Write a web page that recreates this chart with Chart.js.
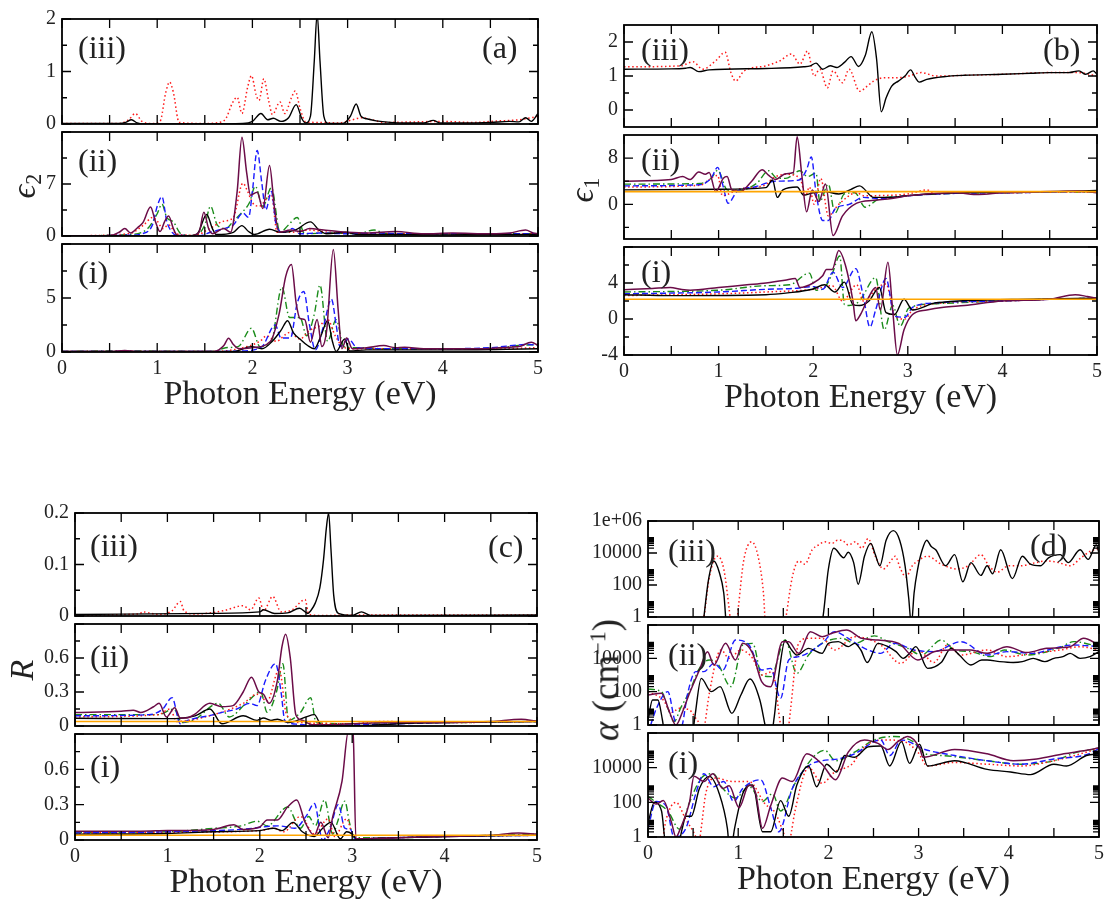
<!DOCTYPE html>
<html>
<head>
<meta charset="utf-8">
<script src="https://cdn.jsdelivr.net/npm/chart.js@4.4.1/dist/chart.umd.min.js"></script>
<style>
  body { margin: 0; background: #fff; }
  #page { position: relative; width: 1107px; height: 899px; overflow: hidden; font-family: 'Liberation Serif', serif; color: #222; }
  canvas { position: absolute; }
  .lbl { position: absolute; font-size: 32px; line-height: 1; white-space: nowrap; }
  .ytitle { position: absolute; font-size: 34px; line-height: 1; white-space: nowrap; transform: translate(-50%, -50%) rotate(-90deg); }
  .ytitle sub { font-size: 0.65em; font-style: normal; vertical-align: -0.25em; }
  .ytitle sup { font-size: 0.6em; vertical-align: 0.6em; }
</style>
</head>
<body>
<div id="page"></div>
<script>
// ---------- data: [photon energy (eV), value] ----------
// panel (a) epsilon_2
const aIII_k = [[0,0.01],[0.6,0.01],[0.67,0.03],[0.73,0.08],[0.79,0.02],[0.85,0],[1.5,0],[1.9,0.01],[2.0,0.05],[2.09,0.2],[2.16,0.08],[2.22,0.11],[2.3,0.05],[2.38,0.12],[2.46,0.37],[2.52,0.1],[2.56,0.02],[2.61,0.15],[2.65,1.2],[2.68,2.1],[2.71,1.2],[2.75,0.15],[2.8,0.01],[2.95,0.01],[3.03,0.15],[3.09,0.38],[3.14,0.15],[3.2,0.1],[3.3,0.06],[3.45,0.03],[3.6,0.02],[3.8,0.02],[3.9,0.07],[3.97,0.02],[4.2,0.02],[4.5,0.03],[4.7,0.05],[4.8,0.04],[4.87,0.12],[4.93,0.05],[5.0,0.2]];
const aIII_r = [[0,0.01],[0.6,0.01],[0.7,0.08],[0.77,0.2],[0.84,0.05],[0.95,0.01],[1.03,0.05],[1.09,0.6],[1.13,0.8],[1.17,0.6],[1.23,0.03],[1.5,0.01],[1.65,0.03],[1.72,0.1],[1.79,0.4],[1.84,0.51],[1.89,0.2],[1.95,0.7],[1.99,0.92],[2.04,0.55],[2.07,0.45],[2.12,0.86],[2.17,0.45],[2.21,0.18],[2.29,0.42],[2.34,0.2],[2.41,0.5],[2.45,0.63],[2.5,0.3],[2.56,0.04],[2.7,0.03],[2.9,0.02],[3.05,0.08],[3.15,0.12],[3.25,0.08],[3.4,0.03],[3.7,0.04],[4.0,0.05],[4.3,0.03],[4.6,0.06],[4.8,0.08],[4.93,0.12],[5.0,0.15]];

const aII_k = [[0,0.02],[1.3,0.01],[1.42,0.3],[1.52,2.9],[1.58,1.0],[1.62,0.2],[1.8,0.5],[1.89,1.4],[1.96,0.6],[2.02,0.2],[2.18,0.9],[2.3,0.5],[2.45,0.8],[2.61,1.9],[2.7,0.8],[2.78,0.3],[2.98,0.5],[3.1,0.2],[3.5,0.2],[4.0,0.15],[4.5,0.2],[5.0,0.2]];
const aII_r = [[0,0.02],[0.7,0.3],[0.86,1.5],[0.95,2.5],[1.0,2.0],[1.06,1.0],[1.12,1.5],[1.2,0.3],[1.4,0.1],[1.55,1.0],[1.7,2.0],[1.8,2.5],[1.9,7.1],[1.95,6.0],[2.0,4.5],[2.07,4.0],[2.15,5.0],[2.2,5.5],[2.26,0.5],[2.4,0.5],[2.6,0.8],[2.8,0.5],[3.0,0.4],[3.4,0.3],[4.0,0.3],[4.6,0.3],[5.0,0.3]];
const aII_b = [[0,0.02],[0.7,0.1],[0.84,0.3],[0.95,1.5],[1.0,4.0],[1.05,5.3],[1.1,2.0],[1.15,0.6],[1.2,0.1],[1.45,0.05],[1.56,0.5],[1.7,1.0],[1.8,1.5],[1.9,3.1],[1.96,2.5],[2.0,6.0],[2.05,11.5],[2.1,7.0],[2.14,3.5],[2.2,6.0],[2.25,1.5],[2.33,0.5],[2.42,1.0],[2.5,0.3],[2.7,0.4],[3.0,0.3],[3.3,0.4],[3.6,0.3],[4.0,0.3],[4.5,0.3],[5.0,0.3]];
const aII_g = [[0,0.02],[0.7,0.2],[0.9,1.0],[1.0,3.0],[1.05,4.3],[1.1,2.5],[1.17,1.9],[1.25,0.3],[1.4,0.05],[1.5,1.5],[1.56,4.0],[1.63,1.5],[1.72,1.0],[1.8,2.0],[1.9,3.3],[1.97,4.5],[2.03,6.7],[2.11,4.0],[2.2,6.5],[2.29,0.5],[2.38,1.5],[2.47,2.5],[2.55,0.3],[2.8,0.4],[3.1,0.3],[3.28,0.8],[3.4,0.3],[3.8,0.3],[4.4,0.3],[5.0,0.3]];
const aII_m = [[0,0.05],[0.5,0.05],[0.6,0.5],[0.66,1.0],[0.72,0.4],[0.8,1.2],[0.85,1.8],[0.93,3.9],[0.98,2.0],[1.03,0.6],[1.08,2.0],[1.12,2.7],[1.17,1.0],[1.21,0.1],[1.35,0],[1.44,0.5],[1.49,3.2],[1.54,1.0],[1.58,0.3],[1.7,1.0],[1.77,0.5],[1.84,6.0],[1.89,13.3],[1.94,8.5],[1.98,5.5],[2.05,5.9],[2.11,3.7],[2.18,9.5],[2.23,4.0],[2.28,0.5],[2.4,0.8],[2.5,0.6],[2.6,1.0],[2.75,0.8],[2.9,0.6],[3.0,0.5],[3.2,0.4],[3.5,0.6],[3.8,0.3],[4.1,0.4],[4.5,0.3],[4.7,0.4],[4.87,0.8],[4.95,0.4],[5.0,0.3]];

const aI_k = [[0,0.05],[1.8,0.05],[1.99,0.5],[2.1,0.3],[2.21,1.0],[2.3,2.0],[2.37,2.9],[2.43,1.8],[2.5,1.2],[2.58,0.6],[2.65,0.3],[2.72,1.5],[2.79,2.9],[2.84,1.0],[2.88,0.05],[2.97,1.2],[3.02,0.1],[3.2,0.2],[4.0,0.2],[5.0,0.3]];
const aI_r = [[0,0.05],[1.6,0.05],[1.9,0.4],[2.08,1.0],[2.15,1.5],[2.25,1.0],[2.39,1.8],[2.5,1.2],[2.6,2.0],[2.7,2.4],[2.79,3.0],[2.87,1.5],[2.95,0.5],[3.05,0.3],[3.5,0.3],[4.5,0.3],[5.0,0.4]];
const aI_b = [[0,0.05],[1.6,0.05],[1.9,0.1],[2.1,0.5],[2.24,2.5],[2.3,1.3],[2.4,1.3],[2.47,4.5],[2.54,5.6],[2.6,2.5],[2.66,0.2],[2.75,2.5],[2.83,4.9],[2.88,2.5],[2.92,0.5],[3.01,1.2],[3.1,0.4],[3.5,0.3],[4.0,0.3],[4.5,0.4],[4.9,0.7],[5.0,0.6]];
const aI_g = [[0,0.05],[0.6,0.1],[1.6,0.05],[1.72,0.4],[1.85,0.5],[1.99,2.2],[2.08,0.5],[2.2,1.0],[2.31,6.0],[2.39,3.2],[2.5,3.2],[2.57,1.5],[2.65,3.5],[2.71,6.2],[2.79,1.0],[2.88,3.0],[2.96,0.5],[3.1,0.4],[3.4,0.3],[3.8,0.3],[4.2,0.3],[4.6,0.4],[4.8,0.6],[5.0,0.7]];
const aI_m = [[0,0.05],[0.5,0.05],[0.66,0.15],[0.8,0.05],[1.6,0.05],[1.7,0.6],[1.75,1.28],[1.8,0.7],[1.86,0.3],[2.0,0.4],[2.19,1.0],[2.28,3.5],[2.35,7.0],[2.41,8.1],[2.46,4.5],[2.5,3.1],[2.55,3.0],[2.61,0.9],[2.68,3.0],[2.73,0.5],[2.78,2.0],[2.85,9.5],[2.9,4.0],[2.94,0.3],[2.99,1.3],[3.05,0.3],[3.2,0.4],[3.38,0.6],[3.5,0.4],[3.6,0.45],[3.8,0.3],[4.1,0.3],[4.4,0.3],[4.6,0.4],[4.8,0.5],[4.93,0.9],[5.0,0.6]];

// panel (b) epsilon_1
const bIII_k = [[0,1.2],[0.5,1.21],[0.65,1.23],[0.7,1.25],[0.79,1.13],[0.9,1.18],[1.5,1.22],[1.9,1.27],[1.97,1.3],[2.03,1.38],[2.1,1.2],[2.18,1.3],[2.25,1.25],[2.33,1.4],[2.4,1.57],[2.48,1.28],[2.55,1.6],[2.62,2.3],[2.67,1.5],[2.72,-0.05],[2.77,0.35],[2.83,0.7],[2.9,0.85],[2.97,1.0],[3.03,1.18],[3.08,0.95],[3.12,0.82],[3.2,0.9],[3.38,0.98],[3.6,1.02],[4.0,1.05],[4.3,1.08],[4.5,1.1],[4.7,1.1],[4.81,1.15],[4.88,1.05],[4.96,1.15],[5.0,1.05]];
const bIII_r = [[0,1.27],[0.6,1.3],[0.73,1.42],[0.83,1.2],[0.97,1.45],[1.07,1.7],[1.13,1.1],[1.18,0.85],[1.27,1.15],[1.5,1.3],[1.65,1.45],[1.77,1.65],[1.86,1.35],[1.94,1.73],[2.01,1.0],[2.07,1.2],[2.15,0.65],[2.21,1.15],[2.31,0.8],[2.38,1.2],[2.49,0.55],[2.57,0.7],[2.64,0.85],[2.75,0.95],[2.9,0.95],[3.01,1.0],[3.14,1.1],[3.3,1.0],[3.6,1.02],[4.0,1.05],[4.5,1.1],[4.8,1.1],[5.0,1.0]];

const bII_o = [[0,2.2],[5,2.2]];
const bII_k = [[0,2.5],[1.0,2.6],[1.5,2.9],[1.57,4.2],[1.62,1.2],[1.68,2.5],[1.83,3.0],[1.9,1.6],[2.0,2.0],[2.12,2.2],[2.27,1.8],[2.4,2.6],[2.49,3.2],[2.64,1.2],[2.8,1.2],[3.0,1.5],[3.5,2.0],[4.0,2.1],[4.5,2.2],[5.0,2.4]];
const bII_r = [[0,3.0],[0.8,3.3],[0.99,5.0],[1.04,1.5],[1.23,2.7],[1.5,3.4],[1.57,4.5],[1.71,5.2],[1.86,4.5],[1.92,1.5],[1.96,3.0],[2.01,0.0],[2.08,4.5],[2.16,-2.0],[2.27,0.0],[2.46,2.0],[2.53,1.5],[3.0,1.8],[3.2,2.5],[3.3,1.8],[3.5,2.0],[4.0,2.0],[4.5,2.1],[5.0,2.1]];
const bII_b = [[0,3.2],[0.8,3.4],[0.92,4.5],[0.99,6.4],[1.05,3.0],[1.1,0.2],[1.2,2.3],[1.38,3.0],[1.6,4.0],[1.85,4.2],[1.93,6.0],[1.98,8.2],[2.03,2.0],[2.1,-2.8],[2.16,-2.8],[2.23,-0.8],[2.38,0.0],[2.53,1.2],[2.71,1.0],[2.9,1.3],[3.1,1.6],[3.5,1.9],[4.0,2.0],[4.5,2.1],[5.0,2.2]];
const bII_g = [[0,3.5],[0.8,3.6],[0.92,4.5],[0.99,5.9],[1.09,2.5],[1.18,2.3],[1.4,3.6],[1.53,5.8],[1.62,4.5],[1.71,4.5],[1.86,5.8],[1.94,4.8],[2.03,5.4],[2.07,0.5],[2.16,3.5],[2.23,-1.5],[2.33,1.8],[2.44,2.0],[2.55,-0.5],[2.68,0.8],[3.0,1.5],[3.5,1.9],[4.0,2.0],[4.5,2.1],[5.0,2.1]];
const bII_m = [[0,4.0],[0.5,4.3],[0.62,4.8],[0.7,4.3],[0.79,5.6],[0.86,5.2],[0.9,5.5],[0.97,2.2],[1.05,4.5],[1.09,4.8],[1.14,2.5],[1.23,2.2],[1.35,4.0],[1.46,6.0],[1.53,5.0],[1.6,4.3],[1.71,5.3],[1.79,5.5],[1.83,11.7],[1.88,5.0],[1.93,-1.3],[1.99,2.5],[2.06,0.5],[2.13,3.5],[2.21,-5.4],[2.31,-2.0],[2.46,0.2],[2.64,0.7],[2.83,1.0],[3.0,1.5],[3.5,2.0],[3.75,1.7],[4.0,2.0],[4.5,2.2],[4.8,2.3],[5.0,2.0]];

const bI_o = [[0,2.2],[5,2.2]];
const bI_k = [[0,2.7],[0.5,2.6],[1.5,2.7],[1.73,2.9],[1.99,3.3],[2.12,3.8],[2.23,3.0],[2.33,4.1],[2.42,1.6],[2.49,1.5],[2.59,2.0],[2.7,3.5],[2.77,0.7],[2.86,0.5],[2.96,2.2],[3.05,1.0],[3.3,1.8],[4.3,2.2],[5.0,2.3]];
const bI_r = [[0,2.6],[1.0,2.8],[1.5,3.0],[2.0,3.3],[2.2,3.7],[2.31,2.0],[2.46,3.8],[2.53,2.0],[2.68,3.5],[2.77,3.9],[2.86,0.5],[2.97,0.0],[3.05,1.0],[3.4,1.8],[4.0,2.0],[4.5,2.2],[5.0,2.3]];
const bI_b = [[0,2.8],[1.0,3.0],[1.5,3.3],[1.8,3.4],[2.0,3.6],[2.1,3.3],[2.21,5.2],[2.31,3.5],[2.45,5.6],[2.53,2.5],[2.6,-0.9],[2.66,1.0],[2.77,4.5],[2.86,0.3],[2.97,0.2],[3.05,1.3],[3.3,1.8],[4.0,2.0],[4.5,2.2],[5.0,2.3]];
const bI_g = [[0,3.0],[1.0,3.2],[1.5,3.7],[1.75,3.8],[1.96,5.1],[2.03,3.2],[2.12,3.5],[2.2,5.0],[2.28,7.0],[2.33,1.6],[2.38,1.5],[2.49,2.0],[2.66,4.6],[2.75,-1.2],[2.84,1.5],[2.92,-0.8],[3.01,1.2],[3.3,1.7],[4.0,2.0],[4.5,2.2],[5.0,2.3]];
const bI_m = [[0,3.24],[0.3,3.4],[0.49,3.5],[0.6,3.3],[0.7,3.2],[1.0,3.5],[1.3,3.8],[1.5,4.0],[1.7,4.3],[1.81,4.5],[1.86,3.5],[2.0,4.0],[2.1,4.8],[2.14,5.5],[2.2,5.5],[2.27,7.6],[2.34,6.0],[2.42,2.0],[2.45,-0.2],[2.5,0.5],[2.59,2.5],[2.66,3.5],[2.71,1.0],[2.79,6.3],[2.84,1.0],[2.89,-4.0],[2.96,-1.2],[3.05,0.5],[3.2,1.0],[3.38,1.3],[3.6,1.5],[4.0,2.0],[4.5,2.2],[4.77,2.7],[4.9,2.5],[5.0,2.3]];

// panel (c) reflectivity
const cIII_k = [[0,0.003],[1.5,0.005],[2.0,0.008],[2.04,0.012],[2.16,0.005],[2.3,0.006],[2.43,0.015],[2.52,0.005],[2.55,0.01],[2.6,0.025],[2.65,0.055],[2.69,0.11],[2.72,0.17],[2.745,0.2],[2.77,0.13],[2.8,0.04],[2.85,0.005],[3.0,0.001],[3.1,0.008],[3.2,0.001],[5.0,0.002]];
const cIII_r = [[0,0.002],[0.7,0.004],[0.73,0.008],[0.9,0.003],[1.05,0.01],[1.14,0.028],[1.18,0.01],[1.3,0.004],[1.6,0.01],[1.82,0.02],[1.9,0.012],[1.99,0.035],[2.04,0.01],[2.14,0.038],[2.23,0.008],[2.35,0.012],[2.49,0.032],[2.53,0.003],[2.7,0.001],[3.0,0.002],[4.0,0.002],[5.0,0.002]];

const cII_o = [[0,0.04],[5,0.04]];
const cII_k = [[0,0.068],[1.0,0.065],[1.3,0.09],[1.46,0.15],[1.59,0.02],[1.82,0.09],[1.97,0.05],[2.04,0.07],[2.12,0.05],[2.19,0.06],[2.31,0.03],[2.5,0.08],[2.59,0.1],[2.67,0.005],[3.0,0.0],[3.5,0.02],[4.0,0.03],[5.0,0.04]];
const cII_r = [[0,0.08],[0.9,0.1],[1.03,0.15],[1.1,0.04],[1.5,0.1],[1.82,0.2],[1.97,0.28],[2.08,0.22],[2.21,0.5],[2.29,0.1],[2.45,0.03],[3.0,0.02],[3.3,0.04],[4.0,0.03],[5.0,0.04]];
const cII_b = [[0,0.09],[0.8,0.1],[0.95,0.15],[1.05,0.25],[1.14,0.02],[1.22,0.05],[1.5,0.1],[1.59,0.12],[1.75,0.15],[1.89,0.2],[1.97,0.18],[2.06,0.4],[2.17,0.55],[2.23,0.3],[2.27,0.05],[2.35,0.02],[2.5,0.01],[3.0,0.01],[3.5,0.02],[4.0,0.03],[5.0,0.04]];
const cII_g = [[0,0.1],[0.9,0.1],[1.07,0.15],[1.16,0.03],[1.3,0.06],[1.55,0.2],[1.67,0.08],[1.85,0.2],[2.01,0.3],[2.08,0.12],[2.18,0.3],[2.25,0.55],[2.31,0.05],[2.44,0.12],[2.55,0.25],[2.61,0.03],[3.0,0.02],[3.5,0.03],[4.0,0.03],[5.0,0.04]];
const cII_m = [[0,0.12],[0.5,0.13],[0.63,0.14],[0.71,0.12],[0.85,0.17],[0.91,0.2],[0.99,0.08],[1.08,0.16],[1.14,0.07],[1.2,0.07],[1.29,0.1],[1.46,0.2],[1.59,0.17],[1.71,0.18],[1.82,0.3],[1.91,0.43],[1.99,0.3],[2.04,0.28],[2.1,0.2],[2.19,0.4],[2.24,0.7],[2.28,0.81],[2.33,0.6],[2.39,0.1],[2.46,0.05],[2.57,0.01],[2.7,0.01],[3.0,0.02],[3.5,0.03],[4.0,0.03],[4.5,0.04],[4.83,0.06],[5.0,0.04]];

const cI_o = [[0,0.04],[5,0.04]];
const cI_k = [[0,0.05],[1.0,0.055],[1.5,0.07],[2.0,0.08],[2.15,0.1],[2.24,0.08],[2.36,0.15],[2.46,0.07],[2.59,0.03],[2.68,0.1],[2.77,0.15],[2.87,0.01],[2.94,0.07],[3.0,0.05],[3.05,0.01],[3.5,0.02],[4.0,0.03],[5.0,0.04]];
const cI_r = [[0,0.06],[1.0,0.065],[2.0,0.08],[2.15,0.1],[2.26,0.07],[2.44,0.2],[2.59,0.05],[2.74,0.18],[2.81,0.03],[2.94,0.18],[3.02,0.01],[3.5,0.02],[4.0,0.03],[5.0,0.04]];
const cI_b = [[0,0.06],[1.0,0.07],[1.8,0.09],[2.2,0.12],[2.38,0.1],[2.5,0.2],[2.59,0.31],[2.68,0.0],[2.76,0.1],[2.85,0.3],[2.92,0.1],[2.98,0.09],[3.03,0.01],[3.5,0.02],[4.0,0.03],[5.0,0.04]];
const cI_g = [[0,0.065],[1.0,0.07],[1.5,0.1],[1.8,0.12],[1.97,0.16],[2.08,0.12],[2.3,0.28],[2.44,0.1],[2.53,0.2],[2.6,0.12],[2.7,0.34],[2.79,0.05],[2.84,0.15],[2.92,0.33],[2.97,0.15],[3.02,0.02],[3.5,0.02],[4.0,0.03],[5.0,0.05]];
const cI_m = [[0,0.075],[0.7,0.075],[1.0,0.08],[1.5,0.09],[1.72,0.13],[1.82,0.09],[2.0,0.11],[2.08,0.17],[2.19,0.17],[2.3,0.28],[2.4,0.34],[2.49,0.15],[2.59,0.04],[2.66,0.15],[2.74,0.02],[2.79,0.2],[2.89,0.5],[2.96,0.93],[3.01,0.9],[3.04,0.01],[3.5,0.02],[4.0,0.03],[4.5,0.04],[4.8,0.06],[5.0,0.05]];

// panel (d) absorption, values are log10(alpha / cm^-1)
const dIII_k = [[0,-1],[0.6,-1],[0.62,0],[0.67,2.3],[0.73,3.5],[0.79,2.8],[0.84,1.5],[0.88,-1],[1.9,-1],[1.94,0],[2.0,3.0],[2.06,4.3],[2.17,3.7],[2.22,4.05],[2.28,3.4],[2.33,2.05],[2.4,3.8],[2.47,4.6],[2.52,3.9],[2.57,3.2],[2.64,4.8],[2.72,5.4],[2.79,4.8],[2.85,3.2],[2.89,1.2],[2.92,-0.5],[2.95,1.5],[2.99,3.0],[3.04,4.2],[3.09,4.8],[3.14,4.4],[3.19,4.2],[3.3,3.2],[3.4,3.9],[3.49,2.2],[3.58,3.4],[3.69,2.6],[3.76,3.2],[3.82,2.7],[3.91,4.2],[4.04,2.4],[4.15,3.8],[4.24,3.3],[4.35,3.2],[4.44,3.7],[4.57,3.9],[4.66,3.4],[4.79,4.2],[4.88,3.6],[4.97,4.5],[5.0,4.0]];
const dIII_r = [[0,-1],[0.58,-1],[0.62,0],[0.68,2.5],[0.77,3.8],[0.84,3.0],[0.9,0.5],[0.93,-1],[0.97,-1],[1.0,0.5],[1.06,3.5],[1.15,4.7],[1.22,3.8],[1.28,1.5],[1.31,-1],[1.5,-1],[1.53,0],[1.6,2.5],[1.67,3.5],[1.74,3.3],[1.82,4.2],[1.89,4.5],[1.96,4.7],[2.04,4.6],[2.1,4.8],[2.15,4.8],[2.22,4.5],[2.3,4.7],[2.37,4.3],[2.44,4.9],[2.52,3.8],[2.61,3.0],[2.68,3.4],[2.74,3.8],[2.8,3.0],[2.86,2.5],[2.93,3.2],[2.99,3.5],[3.1,3.8],[3.25,3.3],[3.43,3.0],[3.55,3.2],[3.69,3.9],[3.78,3.2],[3.87,2.8],[4.0,3.2],[4.13,3.2],[4.3,3.4],[4.42,3.5],[4.55,3.4],[4.68,3.2],[4.8,3.7],[4.9,4.1],[5.0,4.3]];

const dII_k = [[0,0.3],[0.05,1.5],[0.11,1.5],[0.16,0.3],[0.2,-1],[0.48,-1],[0.52,0.5],[0.59,2.8],[0.7,2.0],[0.8,2.3],[0.93,0.7],[1.03,1.8],[1.13,2.76],[1.24,1.5],[1.31,-0.3],[1.35,-1],[1.4,0.5],[1.45,3.0],[1.52,5.07],[1.58,4.6],[1.65,4.2],[1.78,4.6],[1.93,4.3],[2.0,4.9],[2.11,5.0],[2.22,4.7],[2.29,4.9],[2.36,4.5],[2.43,3.75],[2.55,4.9],[2.66,4.7],[2.75,4.4],[2.83,4.0],[2.9,4.3],[2.97,4.7],[3.1,3.4],[3.25,3.75],[3.36,4.6],[3.45,4.2],[3.58,3.6],[3.7,3.9],[3.76,3.9],[3.9,3.8],[4.05,3.75],[4.15,3.8],[4.27,4.0],[4.4,3.8],[4.5,4.0],[4.6,4.1],[4.68,4.3],[4.79,4.0],[4.9,4.1],[5.0,4.4]];
const dII_r = [[0,2.0],[0.17,1.5],[0.26,0.75],[0.35,1.0],[0.46,0.9],[0.53,0.4],[0.57,0],[0.6,-1],[0.63,0],[0.68,1.9],[0.81,4.5],[0.9,4.0],[1.03,4.5],[1.16,4.0],[1.26,3.0],[1.38,3.2],[1.47,0],[1.52,-1],[1.55,-0.5],[1.58,0.9],[1.67,4.9],[1.78,5.2],[1.93,5.2],[2.07,4.5],[2.29,5.3],[2.58,4.8],[2.8,3.7],[2.99,4.5],[3.17,3.75],[3.32,4.8],[3.47,4.2],[3.76,4.5],[3.98,4.1],[4.27,4.3],[4.57,4.5],[4.79,4.7],[5.0,4.5]];
const dII_b = [[0,-0.5],[0.03,0],[0.09,0.95],[0.22,2.0],[0.29,0.4],[0.34,-0.5],[0.38,0],[0.44,1.9],[0.53,3.2],[0.62,3.2],[0.73,3.7],[0.83,3.3],[0.97,5.1],[1.12,4.8],[1.26,3.3],[1.36,3.4],[1.47,1.6],[1.56,3.9],[1.67,4.1],[1.93,4.9],[2.07,5.6],[2.22,5.2],[2.4,4.6],[2.58,4.3],[2.73,4.9],[2.95,4.5],[3.17,4.4],[3.47,5.0],[3.76,4.2],[3.98,4.4],[4.27,4.3],[4.5,4.6],[4.72,4.8],[5.0,4.7]];
const dII_g = [[0,2.15],[0.15,2.0],[0.22,1.0],[0.29,0.2],[0.36,1.0],[0.46,2.0],[0.57,3.4],[0.68,3.9],[0.77,3.7],[0.92,2.3],[1.05,4.8],[1.16,4.9],[1.26,3.0],[1.36,2.9],[1.52,5.1],[1.65,3.1],[1.78,4.2],[1.93,4.9],[2.15,5.2],[2.29,4.9],[2.51,5.35],[2.66,5.0],[2.88,4.6],[3.03,4.2],[3.25,5.1],[3.4,4.5],[3.58,4.4],[3.8,4.1],[3.95,4.5],[4.2,4.2],[4.57,4.65],[4.72,5.0],[5.0,4.7]];
const dII_m = [[0,1.8],[0.15,1.9],[0.24,0.75],[0.31,0],[0.38,0.75],[0.46,1.9],[0.57,3.3],[0.66,4.4],[0.73,3.6],[0.86,4.9],[0.97,3.9],[1.05,4.9],[1.16,4.3],[1.26,2.6],[1.36,2.3],[1.49,5.0],[1.56,5.0],[1.67,4.3],[1.8,5.6],[1.93,5.3],[2.04,5.5],[2.2,5.7],[2.37,5.2],[2.55,5.1],[2.78,4.9],[2.99,3.9],[3.17,4.4],[3.36,4.5],[3.58,4.5],[3.76,4.3],[3.98,4.7],[4.2,4.35],[4.42,4.6],[4.68,4.7],[4.83,5.2],[5.0,4.8]];

const dI_k = [[0,0.8],[0.07,2.0],[0.15,1.5],[0.2,-0.5],[0.33,-0.5],[0.38,0.5],[0.42,1.2],[0.48,1.2],[0.57,2.8],[0.68,3.5],[0.79,2.5],[0.88,0.5],[0.91,-1],[0.96,0.5],[1.05,2.5],[1.16,3.0],[1.27,0.3],[1.36,0.3],[1.47,2.1],[1.56,1.2],[1.65,3.0],[1.78,4.1],[1.87,2.9],[1.98,4.2],[2.09,3.75],[2.18,4.7],[2.29,4.6],[2.44,5.2],[2.58,5.25],[2.68,4.1],[2.81,5.5],[2.9,4.25],[3.01,5.35],[3.1,4.1],[3.4,4.4],[3.76,3.9],[4.02,3.75],[4.24,3.6],[4.5,4.2],[4.64,4.1],[4.86,4.7],[5.0,4.8]];
const dI_r = [[0,-1],[0.13,-1],[0.2,1.0],[0.31,2.0],[0.42,1.0],[0.53,0],[0.56,-0.5],[0.59,0.5],[0.64,2.5],[0.75,3.4],[0.94,3.2],[1.12,3.2],[1.3,1.9],[1.41,1.4],[1.52,0],[1.56,-0.5],[1.59,0.3],[1.63,1.5],[1.78,4.0],[1.93,3.1],[2.07,3.75],[2.26,4.2],[2.4,5.2],[2.62,5.6],[2.84,5.5],[2.99,4.9],[3.1,4.1],[3.4,4.3],[3.76,4.2],[4.13,4.1],[4.5,4.4],[5.0,5.1]];
const dI_b = [[0,0.5],[0.09,2.05],[0.2,1.8],[0.29,0],[0.42,0.5],[0.53,2.5],[0.62,3.65],[0.73,2.9],[0.84,3.2],[0.95,2.05],[1.05,2.8],[1.25,3.3],[1.36,1.7],[1.45,0.3],[1.6,2.8],[1.78,4.1],[1.93,4.4],[2.11,4.5],[2.29,4.8],[2.58,5.6],[2.68,4.7],[2.81,5.6],[3.07,5.05],[3.4,4.7],[3.76,4.4],[4.13,4.2],[4.5,4.5],[4.86,4.75],[5.0,5.1]];
const dI_g = [[0,2.35],[0.09,2.0],[0.22,1.5],[0.35,0.45],[0.46,2.0],[0.61,3.5],[0.72,3.65],[0.83,2.8],[0.97,2.25],[1.12,2.9],[1.27,2.05],[1.38,2.5],[1.47,1.5],[1.63,3.1],[1.96,5.0],[2.08,4.4],[2.29,4.9],[2.51,5.6],[2.73,5.8],[2.94,5.5],[3.07,4.8],[3.25,4.7],[3.76,4.4],[4.13,4.2],[4.5,4.4],[4.76,4.9],[5.0,5.1]];
const dI_m = [[0,2.25],[0.09,1.9],[0.17,2.1],[0.26,0.85],[0.31,0],[0.36,0.5],[0.46,2.0],[0.51,3.5],[0.62,3.2],[0.72,3.65],[0.83,2.8],[0.9,2.95],[1.01,1.7],[1.12,3.0],[1.19,2.6],[1.27,0.5],[1.36,1.8],[1.49,3.4],[1.6,3.2],[1.76,4.8],[1.93,4.2],[2.08,3.3],[2.22,4.9],[2.4,5.6],[2.55,5.4],[2.66,5.05],[2.77,5.5],[2.88,5.8],[3.01,5.15],[3.05,4.6],[3.4,5.05],[3.76,4.8],[4.05,4.4],[4.31,4.5],[4.61,4.8],[4.86,5.0],[5.0,5.15]];

// ---------- axis ticks ----------
const xMajor = [0, 1, 2, 3, 4, 5];
const xMinor = [0.5, 1.5, 2.5, 3.5, 4.5];
const xLabels = ['0', '1', '2', '3', '4', '5'];
const logMinor = [2,3,4,5,6,7,8,9, 200,300,400,500,600,700,800,900, 2e4,3e4,4e4,5e4,6e4,7e4,8e4,9e4];

const styles = {
  k: { color: '#000000', dash: [], width: 1.4 },
  r: { color: '#ff1a1a', dash: [1.5, 2.6], width: 1.5 },
  b: { color: '#1a1aff', dash: [6, 3], width: 1.4 },
  g: { color: '#1a8c1a', dash: [7, 3, 1.5, 3], width: 1.4 },
  m: { color: '#6b0c48', dash: [], width: 1.5 },
  o: { color: '#ffa500', dash: [], width: 1.6 }
};

const FONT = "'Liberation Serif', serif";
const PT = 14, PR = 18, M = 70, XH = 60;

const panels = [
  { left: 62, right: 538, tops: [15, 128, 240, 352], letter: '(a)', letterX: 482, letterY: 31,
    labelX: 78, labelDy: 16,
    title: '<i>&#x03F5;</i><sub>2</sub>', titleX: 26, titleY: 186, titleSize: 34,
    subs: [
      { name: '(iii)', min: 0, max: 2, major: [0, 1, 2], minor: [0.5, 1.5], labels: { 0: '0', 1: '1', 2: '2' }, series: [['k', aIII_k], ['r', aIII_r]] },
      { name: '(ii)', min: 0, max: 14, major: [0, 7, 14], minor: [3.5, 10.5], labels: { 0: '0', 7: '7' }, series: [['m', aII_m], ['k', aII_k], ['b', aII_b], ['r', aII_r], ['g', aII_g]] },
      { name: '(i)', min: 0, max: 10, major: [0, 5, 10], minor: [2.5, 7.5], labels: { 0: '0', 5: '5' }, series: [['m', aI_m], ['k', aI_k], ['b', aI_b], ['r', aI_r], ['g', aI_g]] }
    ] },
  { left: 624, right: 1097, tops: [21, 131, 243, 355], letter: '(b)', letterX: 1043, letterY: 33,
    labelX: 641, labelDy: 12,
    title: '<i>&#x03F5;</i><sub>1</sub>', titleX: 584, titleY: 190, titleSize: 34,
    subs: [
      { name: '(iii)', min: -0.5, max: 2.5, major: [0, 1, 2], minor: [0.5, 1.5], labels: { 0: '0', 1: '1', 2: '2' }, series: [['k', bIII_k], ['r', bIII_r]] },
      { name: '(ii)', min: -6, max: 12, major: [0, 8], minor: [-4, 4], labels: { 0: '0', 8: '8' }, series: [['o', bII_o], ['m', bII_m], ['k', bII_k], ['b', bII_b], ['r', bII_r], ['g', bII_g]] },
      { name: '(i)', min: -4, max: 8, major: [-4, 0, 4, 8], minor: [-2, 2, 6], labels: { '-4': '-4', 0: '0', 4: '4' }, series: [['o', bI_o], ['m', bI_m], ['k', bI_k], ['b', bI_b], ['r', bI_r], ['g', bI_g]] }
    ] },
  { left: 75, right: 537, tops: [509, 620, 730, 840], letter: '(c)', letterX: 488, letterY: 530,
    labelX: 90, labelDy: 20,
    title: '<i>R</i>', titleX: 22, titleY: 670, titleSize: 34,
    subs: [
      { name: '(iii)', min: 0, max: 0.2, major: [0, 0.1, 0.2], minor: [0.05, 0.15], labels: { 0: '0', 0.1: '0.1', 0.2: '0.2' }, series: [['k', cIII_k], ['r', cIII_r]] },
      { name: '(ii)', min: 0, max: 0.9, major: [0, 0.3, 0.6, 0.9], minor: [0.15, 0.45, 0.75], labels: { 0: '0', 0.3: '0.3', 0.6: '0.6' }, series: [['o', cII_o], ['m', cII_m], ['k', cII_k], ['b', cII_b], ['r', cII_r], ['g', cII_g]] },
      { name: '(i)', min: 0, max: 0.9, major: [0, 0.3, 0.6, 0.9], minor: [0.15, 0.45, 0.75], labels: { 0: '0', 0.3: '0.3', 0.6: '0.6' }, series: [['o', cI_o], ['m', cI_m], ['k', cI_k], ['b', cI_b], ['r', cI_r], ['g', cI_g]] }
    ] },
  { left: 648, right: 1099, tops: [517, 621, 729, 837], letter: '(d)', letterX: 1030, letterY: 529, log: true,
    labelX: 668, labelDy: 17,
    title: '<i>&alpha;</i> (cm<sup>&minus;1</sup>)', titleX: 606, titleY: 680, titleSize: 37,
    subs: [
      { name: '(iii)', min: 1, max: 1e6, major: [1, 100, 1e4, 1e6], minor: logMinor, labels: { 1: '1', 100: '100', 10000: '10000', 1000000: '1e+06' }, series: [['k', dIII_k], ['r', dIII_r]] },
      { name: '(ii)', min: 1, max: 1e6, major: [1, 100, 1e4, 1e6], minor: logMinor, labels: { 1: '1', 100: '100', 10000: '10000' }, series: [['m', dII_m], ['k', dII_k], ['b', dII_b], ['r', dII_r], ['g', dII_g]] },
      { name: '(i)', min: 1, max: 1e6, major: [1, 100, 1e4, 1e6], minor: logMinor, labels: { 1: '1', 100: '100', 10000: '10000' }, series: [['m', dI_m], ['k', dI_k], ['b', dI_b], ['r', dI_r], ['g', dI_g]] }
    ] }
];

const page = document.getElementById('page');

function addText(cls, html, x, y, size) {
  const d = document.createElement('div');
  d.className = cls;
  d.innerHTML = html;
  d.style.left = x + 'px';
  d.style.top = y + 'px';
  if (size) d.style.fontSize = size + 'px';
  page.appendChild(d);
}

function labelOf(sub, v) {
  for (const k in sub.labels) {
    if (Math.abs(Number(k) - v) < 1e-9 * Math.max(1, Math.abs(v))) return sub.labels[k];
  }
  return '';
}

// inward tick marks and frame, like the original plot
function framePlugin(sub, log) {
  return {
    id: 'frame',
    afterDatasetsDraw(chart) {
      const { ctx, chartArea: a, scales: { x, y } } = chart;
      ctx.save();
      ctx.strokeStyle = '#000';
      ctx.lineWidth = 1.3;
      ctx.beginPath();
      const xt = (v, len) => {
        const px = x.getPixelForValue(v);
        ctx.moveTo(px, a.bottom); ctx.lineTo(px, a.bottom - len);
        ctx.moveTo(px, a.top); ctx.lineTo(px, a.top + len);
      };
      const yt = (v, len) => {
        const py = y.getPixelForValue(v);
        ctx.moveTo(a.left, py); ctx.lineTo(a.left + len, py);
        ctx.moveTo(a.right, py); ctx.lineTo(a.right - len, py);
      };
      xMajor.forEach(v => xt(v, 9));
      xMinor.forEach(v => xt(v, 9));
      sub.major.forEach(v => yt(v, 9));
      sub.minor.forEach(v => yt(v, log ? 6 : 5));
      ctx.stroke();
      ctx.lineWidth = 1.8;
      ctx.strokeRect(a.left, a.top, a.right - a.left, a.bottom - a.top);
      ctx.restore();
    }
  };
}

panels.forEach(p => {
  p.subs.forEach((sub, i) => {
    const top = p.tops[i], h = p.tops[i + 1] - top;
    const isBottom = i === 2;
    const w = p.right - p.left;
    const cv = document.createElement('canvas');
    cv.width = M + w + PR;
    cv.height = PT + h + (isBottom ? XH : PT);
    cv.style.left = (p.left - M) + 'px';
    cv.style.top = (top - PT) + 'px';
    page.appendChild(cv);

    const datasets = sub.series.map(([key, pts]) => ({
      data: pts.map(q => ({ x: q[0], y: p.log ? Math.pow(10, q[1]) : q[1] })),
      borderColor: styles[key].color,
      borderDash: styles[key].dash,
      borderWidth: styles[key].width,
      pointRadius: 0,
      fill: false,
      cubicInterpolationMode: 'monotone'
    }));

    new Chart(cv, {
      type: 'line',
      data: { datasets },
      options: {
        animation: false,
        responsive: false,
        parsing: false,
        events: [],
        layout: { padding: { top: PT, right: PR, bottom: isBottom ? 0 : PT, left: 0 } },
        plugins: { legend: { display: false }, tooltip: { enabled: false } },
        scales: {
          x: {
            type: 'linear', min: 0, max: 5,
            display: isBottom,
            grid: { display: false, drawTicks: false },
            border: { display: false },
            afterBuildTicks: s => { s.ticks = xMajor.map(v => ({ value: v })); },
            ticks: { callback: (v, idx) => xLabels[idx], font: { family: FONT, size: 20 }, color: '#222', padding: 5, maxRotation: 0, autoSkip: false },
            title: { display: true, text: 'Photon Energy (eV)', font: { family: FONT, size: 34, lineHeight: 1 }, color: '#222', padding: 0 },
            afterFit: s => { s.height = isBottom ? XH : 0; }
          },
          y: {
            type: p.log ? 'logarithmic' : 'linear',
            min: sub.min, max: sub.max,
            grid: { display: false, drawTicks: false },
            border: { display: false },
            afterBuildTicks: s => { s.ticks = sub.major.map(v => ({ value: v, major: true })); },
            ticks: { callback: v => labelOf(sub, v), font: { family: FONT, size: 20 }, color: '#222', padding: 6, autoSkip: false },
            afterFit: s => { s.width = M; }
          }
        }
      },
      plugins: [framePlugin(sub, p.log)]
    });

    addText('lbl', sub.name, p.labelX, top + p.labelDy);
  });
  addText('lbl', p.letter, p.letterX, p.letterY);
  addText('ytitle', p.title, p.titleX, p.titleY, p.titleSize);
});
</script>
</body>
</html>
